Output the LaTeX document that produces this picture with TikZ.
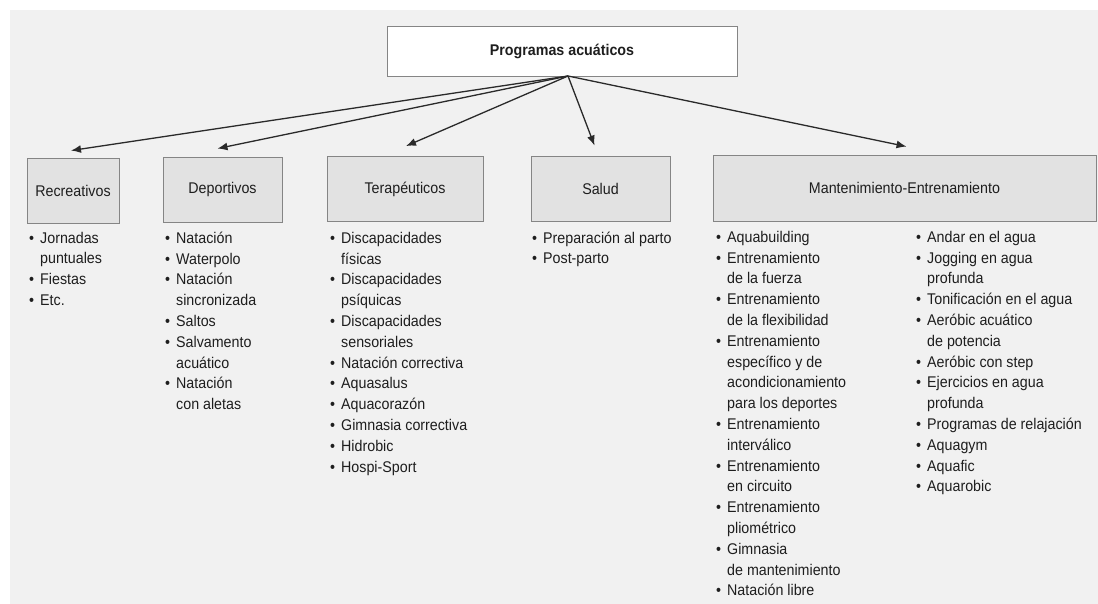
\documentclass[tikz,border=0pt]{standalone}
\usepackage{fontspec}
\setmainfont{Liberation Sans}[FakeStretch=0.92]
\usetikzlibrary{arrows.meta}
\definecolor{bg}{HTML}{F1F1F1}
\definecolor{boxfill}{HTML}{E2E2E2}
\definecolor{boxline}{HTML}{858585}
\definecolor{txt}{HTML}{1E1E1E}
\definecolor{arrowc}{HTML}{2A2A2A}
\newcommand\bu{\makebox[11pt][l]{\textbullet}}
\newcommand\ii{\hspace*{11pt}}
\newcommand\topstrut{\rule{0pt}{16pt}}
\begin{document}
\begin{tikzpicture}[x=1pt,y=-1pt,
  catbox/.style={draw=boxline, fill=boxfill, line width=0.9pt, inner sep=0pt,
    minimum height=65pt, text=txt, font=\fontsize{15.5}{18}\selectfont},
  rootbox/.style={draw=boxline, fill=white, line width=0.9pt, inner sep=0pt,
    minimum width=350pt, minimum height=50pt, text=txt,
    font=\bfseries\fontsize{15.5}{18}\selectfont},
  itemlist/.style={anchor=north west, align=left, inner sep=0pt, text=txt,
    font=\fontsize{15.5}{20.8}\selectfont},
  arr/.style={draw=arrowc, line width=1.3pt, -{Latex[length=10pt,width=8pt]}}
]
\useasboundingbox (0,0) rectangle (1098,604);
\fill[white] (0,0) rectangle (1098,604);
\fill[bg] (10,10) rectangle (1098,604);

% root
\node[rootbox] (root) at (562,51) {Programas acuáticos};
\coordinate (o) at (568,76);

% categories
\node[catbox, minimum width=92pt]  (rec) at (73,190.5) {Recreativos};
\node[catbox, minimum width=119pt] (dep) at (222.5,189.5) {Deportivos};
\node[catbox, minimum width=156pt] (ter) at (405,189) {Terapéuticos};
\node[catbox, minimum width=139pt] (sal) at (600.5,188.5) {Salud};
\node[catbox, minimum width=383pt, minimum height=66pt] (man) at (904.5,188) {Mantenimiento-Entrenamiento};

% arrows
\draw[arr] (o) -- ([xshift=-2pt,yshift=7pt]rec.north);
\draw[arr] (o) -- ([xshift=-5pt,yshift=8pt]dep.north);
\draw[arr] (o) -- ([xshift=1pt,yshift=10pt]ter.north);
\draw[arr] (o) -- ([xshift=-6pt,yshift=10pt]sal.north);
\draw[arr] (o) -- ([xshift=2pt,yshift=8pt]man.north);

% lists
\node[itemlist] (lrec) at (29,227) {\topstrut\bu Jornadas\\ \ii puntuales\\ \bu Fiestas\\ \bu Etc.};
\node[itemlist] (ldep) at (165,227) {\topstrut\bu Natación\\ \bu Waterpolo\\ \bu Natación\\ \ii sincronizada\\ \bu Saltos\\ \bu Salvamento\\ \ii acuático\\ \bu Natación\\ \ii con aletas};
\node[itemlist] (lter) at (330,227) {\topstrut\bu Discapacidades\\ \ii físicas\\ \bu Discapacidades\\ \ii psíquicas\\ \bu Discapacidades\\ \ii sensoriales\\ \bu Natación correctiva\\ \bu Aquasalus\\ \bu Aquacorazón\\ \bu Gimnasia correctiva\\ \bu Hidrobic\\ \bu Hospi-Sport};
\node[itemlist] (lsal) at (532,227) {\topstrut\bu Preparación al parto\\ \bu Post-parto};
\node[itemlist] (lman1) at (716,226) {\topstrut\bu Aquabuilding\\ \bu Entrenamiento\\ \ii de la fuerza\\ \bu Entrenamiento\\ \ii de la flexibilidad\\ \bu Entrenamiento\\ \ii específico y de\\ \ii acondicionamiento\\ \ii para los deportes\\ \bu Entrenamiento\\ \ii interválico\\ \bu Entrenamiento\\ \ii en circuito\\ \bu Entrenamiento\\ \ii pliométrico\\ \bu Gimnasia\\ \ii de mantenimiento\\ \bu Natación libre};
\node[itemlist] (lman2) at (916,226) {\topstrut\bu Andar en el agua\\ \bu Jogging en agua\\ \ii profunda\\ \bu Tonificación en el agua\\ \bu Aeróbic acuático\\ \ii de potencia\\ \bu Aeróbic con step\\ \bu Ejercicios en agua\\ \ii profunda\\ \bu Programas de relajación\\ \bu Aquagym\\ \bu Aquafic\\ \bu Aquarobic};
\end{tikzpicture}
\end{document}
